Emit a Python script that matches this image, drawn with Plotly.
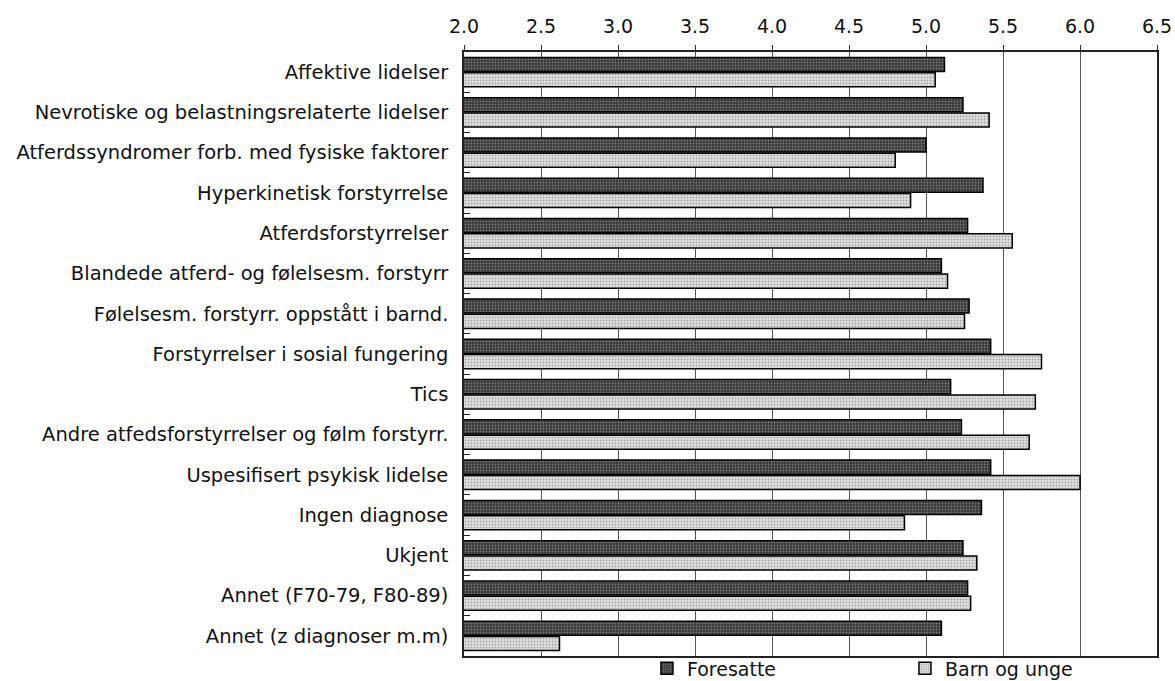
import plotly.graph_objects as go

categories = [
    "Affektive lidelser",
    "Nevrotiske og belastningsrelaterte lidelser",
    "Atferdssyndromer forb. med fysiske faktorer",
    "Hyperkinetisk forstyrrelse",
    "Atferdsforstyrrelser",
    "Blandede atferd- og følelsesm. forstyrr",
    "Følelsesm. forstyrr. oppstått i barnd.",
    "Forstyrrelser i sosial fungering",
    "Tics",
    "Andre atfedsforstyrrelser og følm forstyrr.",
    "Uspesifisert psykisk lidelse",
    "Ingen diagnose",
    "Ukjent",
    "Annet (F70-79, F80-89)",
    "Annet (z diagnoser m.m)",
]

foresatte = [5.12, 5.24, 5.00, 5.37, 5.27, 5.10, 5.28, 5.42, 5.16, 5.23, 5.42, 5.36, 5.24, 5.27, 5.10]
barn_og_unge = [5.06, 5.41, 4.80, 4.90, 5.56, 5.14, 5.25, 5.75, 5.71, 5.67, 6.00, 4.86, 5.33, 5.29, 2.62]

x_ticks = [2.0, 2.5, 3.0, 3.5, 4.0, 4.5, 5.0, 5.5, 6.0, 6.5]
x_tick_labels = ["2.0", "2.5", "3.0", "3.5", "4.0", "4.5", "5.0", "5.5", "6.0", "6.5"]

FONT = "DejaVu Sans, Verdana, sans-serif"

fig = go.Figure()
fig.add_trace(go.Bar(
    name="Foresatte",
    y=categories,
    x=foresatte,
    base=0,
    orientation="h",
    marker=dict(
        color="#3a3a3a",
        line=dict(color="#000000", width=1.5),
        pattern=dict(shape=".", fgcolor="#7a7a7a", bgcolor="#383838",
                     size=3, solidity=0.3, fillmode="replace"),
    ),
))
fig.add_trace(go.Bar(
    name="Barn og unge",
    y=categories,
    x=barn_og_unge,
    base=0,
    orientation="h",
    marker=dict(
        color="#d8d8d8",
        line=dict(color="#000000", width=1.5),
        pattern=dict(shape=".", fgcolor="#a4a4a4", bgcolor="#e2e2e2",
                     size=3, solidity=0.3, fillmode="replace"),
    ),
))

fig.update_layout(
    width=1175,
    height=681,
    barmode="group",
    bargap=0.24,
    bargroupgap=0.08,
    plot_bgcolor="#ffffff",
    paper_bgcolor="#ffffff",
    font=dict(family=FONT, size=19.5, color="#111111"),
    margin=dict(l=464, r=18, t=52, b=25, autoexpand=False),
    showlegend=True,
    legend=dict(
        orientation="h",
        x=0.264, xanchor="left",
        y=0.011, yanchor="top",
        entrywidth=213,
        font=dict(family=FONT, size=19, color="#111111"),
        itemwidth=30,
        bgcolor="rgba(0,0,0,0)",
    ),
    xaxis=dict(
        side="top",
        range=[2.0, 6.5],
        tickvals=x_ticks,
        ticktext=x_tick_labels,
        ticks="outside",
        ticklen=5,
        tickcolor="#333333",
        ticklabelstandoff=5,
        showgrid=True,
        gridcolor="#555555",
        gridwidth=1,
        showline=True,
        linecolor="#222222",
        linewidth=1.5,
        mirror=True,
        zeroline=False,
        tickfont=dict(family=FONT, size=19, color="#111111"),
    ),
    yaxis=dict(
        autorange="reversed",
        type="category",
        tickson="boundaries",
        ticks="inside",
        ticklen=6,
        tickcolor="#222222",
        showgrid=False,
        showline=True,
        linecolor="#222222",
        linewidth=1.5,
        mirror=True,
        ticklabelstandoff=10,
        tickfont=dict(family=FONT, size=19.5, color="#111111"),
    ),
)

fig.write_html("out.html")
